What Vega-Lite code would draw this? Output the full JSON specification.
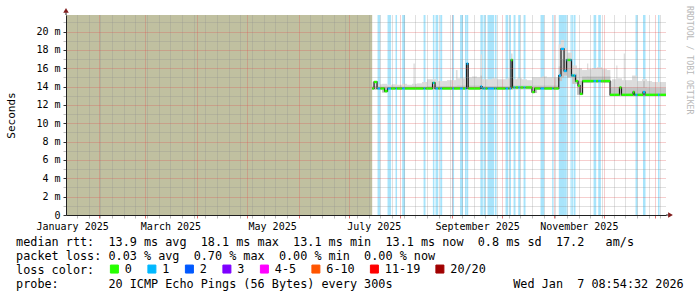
{
  "$schema": "https://vega.github.io/schema/vega-lite/v6.json",
  "width": 600,
  "height": 200,
  "autosize": {"type": "none"},
  "padding": {"left": 66, "top": 15, "right": 31, "bottom": 82},
  "background": "#ffffff",
  "config": {"view": {"stroke": null}, "font": "DejaVu Sans Mono"},
  "title": {"text": "RRDTOOL / TOBI OETIKER", "orient": "right", "anchor": "start", "frame": "group", "offset": 2, "dx": -9, "font": "DejaVu Sans Mono", "fontSize": 8.2, "fontWeight": "normal", "color": "#b8b8b8"},
  "datasets": {
    "unknown": [{"s": "2025-01-12T08:54", "e": "2025-07-15T02:00"}],
    "median": [
      {"s":"2025-07-15T02:00","e":"2025-07-16T05:00","ms":13.8,"loss":"0"},
      {"s":"2025-07-16T05:00","e":"2025-07-18T00:00","ms":14.5,"loss":"0"},
      {"s":"2025-07-18T00:00","e":"2025-07-18T07:00","ms":13.8,"loss":"0"},
      {"s":"2025-07-18T07:00","e":"2025-07-19T22:00","ms":13.8,"loss":"1"},
      {"s":"2025-07-19T22:00","e":"2025-07-22T12:00","ms":13.8,"loss":"0"},
      {"s":"2025-07-22T12:00","e":"2025-07-24T07:00","ms":13.5,"loss":"0"},
      {"s":"2025-07-24T07:00","e":"2025-07-26T10:00","ms":13.8,"loss":"1"},
      {"s":"2025-07-26T10:00","e":"2025-07-29T02:00","ms":13.8,"loss":"0"},
      {"s":"2025-07-29T02:00","e":"2025-07-30T00:00","ms":13.8,"loss":"1"},
      {"s":"2025-07-30T00:00","e":"2025-08-02T02:00","ms":13.8,"loss":"0"},
      {"s":"2025-08-02T02:00","e":"2025-08-03T19:00","ms":13.8,"loss":"1"},
      {"s":"2025-08-03T19:00","e":"2025-08-14T22:00","ms":13.8,"loss":"0"},
      {"s":"2025-08-14T22:00","e":"2025-08-16T02:00","ms":13.8,"loss":"1"},
      {"s":"2025-08-16T02:00","e":"2025-08-20T07:00","ms":13.8,"loss":"0"},
      {"s":"2025-08-20T07:00","e":"2025-08-20T12:00","ms":14.4,"loss":"0"},
      {"s":"2025-08-20T12:00","e":"2025-08-21T10:00","ms":14.4,"loss":"1"},
      {"s":"2025-08-21T10:00","e":"2025-08-21T19:00","ms":14.4,"loss":"0"},
      {"s":"2025-08-21T19:00","e":"2025-08-22T02:00","ms":13.8,"loss":"0"},
      {"s":"2025-08-22T02:00","e":"2025-08-23T17:00","ms":13.8,"loss":"1"},
      {"s":"2025-08-23T17:00","e":"2025-08-24T22:00","ms":13.8,"loss":"0"},
      {"s":"2025-08-24T22:00","e":"2025-08-26T02:00","ms":13.8,"loss":"1"},
      {"s":"2025-08-26T02:00","e":"2025-09-01T02:00","ms":13.8,"loss":"0"},
      {"s":"2025-09-01T02:00","e":"2025-09-02T05:00","ms":13.8,"loss":"1"},
      {"s":"2025-09-02T05:00","e":"2025-09-05T19:00","ms":13.8,"loss":"0"},
      {"s":"2025-09-05T19:00","e":"2025-09-07T14:00","ms":13.8,"loss":"1"},
      {"s":"2025-09-07T14:00","e":"2025-09-08T19:00","ms":13.8,"loss":"0"},
      {"s":"2025-09-08T19:00","e":"2025-09-09T17:00","ms":13.8,"loss":"1"},
      {"s":"2025-09-09T17:00","e":"2025-09-10T17:00","ms":16.5,"loss":"1"},
      {"s":"2025-09-10T17:00","e":"2025-09-17T22:00","ms":13.8,"loss":"0"},
      {"s":"2025-09-17T22:00","e":"2025-09-18T02:00","ms":13.8,"loss":"1"},
      {"s":"2025-09-18T02:00","e":"2025-09-19T00:00","ms":14.0,"loss":"1"},
      {"s":"2025-09-19T00:00","e":"2025-09-19T12:00","ms":13.8,"loss":"1"},
      {"s":"2025-09-19T12:00","e":"2025-09-19T22:00","ms":13.8,"loss":"0"},
      {"s":"2025-09-19T22:00","e":"2025-09-21T02:00","ms":13.8,"loss":"1"},
      {"s":"2025-09-21T02:00","e":"2025-09-22T07:00","ms":13.8,"loss":"0"},
      {"s":"2025-09-22T07:00","e":"2025-09-26T07:00","ms":13.8,"loss":"1"},
      {"s":"2025-09-26T07:00","e":"2025-09-26T19:00","ms":13.8,"loss":"0"},
      {"s":"2025-09-26T19:00","e":"2025-09-27T17:00","ms":13.8,"loss":"1"},
      {"s":"2025-09-27T17:00","e":"2025-10-03T02:00","ms":13.8,"loss":"0"},
      {"s":"2025-10-03T02:00","e":"2025-10-04T17:00","ms":13.8,"loss":"1"},
      {"s":"2025-10-04T17:00","e":"2025-10-05T12:00","ms":13.8,"loss":"0"},
      {"s":"2025-10-05T12:00","e":"2025-10-06T09:00","ms":13.8,"loss":"1"},
      {"s":"2025-10-06T09:00","e":"2025-10-07T07:00","ms":16.9,"loss":"0"},
      {"s":"2025-10-07T07:00","e":"2025-10-07T22:00","ms":13.9,"loss":"0"},
      {"s":"2025-10-07T22:00","e":"2025-10-09T02:00","ms":13.9,"loss":"1"},
      {"s":"2025-10-09T02:00","e":"2025-10-10T17:00","ms":13.9,"loss":"0"},
      {"s":"2025-10-10T17:00","e":"2025-10-11T22:00","ms":13.9,"loss":"1"},
      {"s":"2025-10-11T22:00","e":"2025-10-13T22:00","ms":13.9,"loss":"0"},
      {"s":"2025-10-13T22:00","e":"2025-10-15T02:00","ms":13.9,"loss":"1"},
      {"s":"2025-10-15T02:00","e":"2025-10-18T23:00","ms":13.9,"loss":"0"},
      {"s":"2025-10-18T23:00","e":"2025-10-20T12:00","ms":13.4,"loss":"0"},
      {"s":"2025-10-20T12:00","e":"2025-10-24T02:00","ms":13.8,"loss":"0"},
      {"s":"2025-10-24T02:00","e":"2025-10-26T07:00","ms":13.8,"loss":"1"},
      {"s":"2025-10-26T07:00","e":"2025-10-31T02:00","ms":13.8,"loss":"0"},
      {"s":"2025-10-31T02:00","e":"2025-10-31T22:00","ms":13.8,"loss":"1"},
      {"s":"2025-10-31T22:00","e":"2025-11-04T01:00","ms":13.8,"loss":"0"},
      {"s":"2025-11-04T01:00","e":"2025-11-05T09:00","ms":15.2,"loss":"1"},
      {"s":"2025-11-05T09:00","e":"2025-11-07T05:00","ms":18.1,"loss":"1"},
      {"s":"2025-11-07T05:00","e":"2025-11-08T17:00","ms":15.7,"loss":"1"},
      {"s":"2025-11-08T17:00","e":"2025-11-09T06:00","ms":16.9,"loss":"1"},
      {"s":"2025-11-09T06:00","e":"2025-11-11T02:00","ms":16.9,"loss":"0"},
      {"s":"2025-11-11T02:00","e":"2025-11-11T16:00","ms":16.9,"loss":"1"},
      {"s":"2025-11-11T16:00","e":"2025-11-12T12:00","ms":15.2,"loss":"1"},
      {"s":"2025-11-12T12:00","e":"2025-11-12T22:00","ms":15.2,"loss":"0"},
      {"s":"2025-11-12T22:00","e":"2025-11-14T02:00","ms":15.2,"loss":"1"},
      {"s":"2025-11-14T02:00","e":"2025-11-15T14:00","ms":14.6,"loss":"0"},
      {"s":"2025-11-15T14:00","e":"2025-11-16T19:00","ms":14.1,"loss":"0"},
      {"s":"2025-11-16T19:00","e":"2025-11-18T07:00","ms":13.2,"loss":"0"},
      {"s":"2025-11-18T07:00","e":"2025-11-24T22:00","ms":14.6,"loss":"0"},
      {"s":"2025-11-24T22:00","e":"2025-11-26T12:00","ms":14.6,"loss":"1"},
      {"s":"2025-11-26T12:00","e":"2025-11-27T17:00","ms":14.6,"loss":"0"},
      {"s":"2025-11-27T17:00","e":"2025-11-29T07:00","ms":14.6,"loss":"1"},
      {"s":"2025-11-29T07:00","e":"2025-12-04T19:00","ms":14.6,"loss":"0"},
      {"s":"2025-12-04T19:00","e":"2025-12-10T11:00","ms":13.1,"loss":"0"},
      {"s":"2025-12-10T11:00","e":"2025-12-11T16:00","ms":13.9,"loss":"0"},
      {"s":"2025-12-11T16:00","e":"2025-12-18T14:00","ms":13.1,"loss":"0"},
      {"s":"2025-12-18T14:00","e":"2025-12-19T11:00","ms":13.4,"loss":"0"},
      {"s":"2025-12-19T11:00","e":"2025-12-20T02:00","ms":13.1,"loss":"0"},
      {"s":"2025-12-20T02:00","e":"2025-12-21T07:00","ms":13.1,"loss":"1"},
      {"s":"2025-12-21T07:00","e":"2025-12-24T14:00","ms":13.1,"loss":"0"},
      {"s":"2025-12-24T14:00","e":"2025-12-25T19:00","ms":13.4,"loss":"1"},
      {"s":"2025-12-25T19:00","e":"2025-12-26T02:00","ms":13.1,"loss":"1"},
      {"s":"2025-12-26T02:00","e":"2026-01-02T14:00","ms":13.1,"loss":"0"},
      {"s":"2026-01-02T14:00","e":"2026-01-03T12:00","ms":13.1,"loss":"1"},
      {"s":"2026-01-03T12:00","e":"2026-01-07T08:54","ms":13.1,"loss":"0"}
    ],
    "smoke": [
      {"s":"2025-07-15T02:00","e":"2025-07-18T00:00","ms":13.65,"hi":14.5,"mid":14.05},
      {"s":"2025-07-18T00:00","e":"2025-07-21T00:00","ms":13.65,"hi":14.25,"mid":14.0},
      {"s":"2025-07-21T00:00","e":"2025-07-24T00:00","ms":13.35,"hi":14.3,"mid":14.0},
      {"s":"2025-07-24T00:00","e":"2025-07-27T00:00","ms":13.65,"hi":14.2,"mid":14.0},
      {"s":"2025-07-27T00:00","e":"2025-07-30T00:00","ms":13.65,"hi":14.25,"mid":14.0},
      {"s":"2025-07-30T00:00","e":"2025-08-02T00:00","ms":13.65,"hi":14.2,"mid":14.0},
      {"s":"2025-08-02T00:00","e":"2025-08-05T00:00","ms":13.65,"hi":14.3,"mid":14.0},
      {"s":"2025-08-05T00:00","e":"2025-08-08T00:00","ms":13.65,"hi":14.2,"mid":14.0},
      {"s":"2025-08-08T00:00","e":"2025-08-11T00:00","ms":13.65,"hi":14.3,"mid":14.0},
      {"s":"2025-08-11T00:00","e":"2025-08-14T00:00","ms":13.65,"hi":14.35,"mid":14.0},
      {"s":"2025-08-14T00:00","e":"2025-08-17T00:00","ms":13.65,"hi":14.5,"mid":14.0},
      {"s":"2025-08-17T00:00","e":"2025-08-20T00:00","ms":13.65,"hi":14.8,"mid":14.05},
      {"s":"2025-08-20T00:00","e":"2025-08-23T00:00","ms":13.65,"hi":14.8,"mid":14.1},
      {"s":"2025-08-23T00:00","e":"2025-08-26T00:00","ms":13.65,"hi":14.6,"mid":14.05},
      {"s":"2025-08-26T00:00","e":"2025-08-29T00:00","ms":13.65,"hi":14.6,"mid":14.05},
      {"s":"2025-08-29T00:00","e":"2025-09-01T00:00","ms":13.65,"hi":14.7,"mid":14.05},
      {"s":"2025-09-01T00:00","e":"2025-09-04T00:00","ms":13.65,"hi":14.7,"mid":14.05},
      {"s":"2025-09-04T00:00","e":"2025-09-07T00:00","ms":13.65,"hi":14.9,"mid":14.1},
      {"s":"2025-09-07T00:00","e":"2025-09-10T00:00","ms":13.65,"hi":14.9,"mid":14.1},
      {"s":"2025-09-10T00:00","e":"2025-09-13T00:00","ms":13.65,"hi":15.0,"mid":14.1},
      {"s":"2025-09-13T00:00","e":"2025-09-16T00:00","ms":13.65,"hi":15.1,"mid":14.1},
      {"s":"2025-09-16T00:00","e":"2025-09-19T00:00","ms":13.65,"hi":15.0,"mid":14.1},
      {"s":"2025-09-19T00:00","e":"2025-09-22T00:00","ms":13.65,"hi":14.8,"mid":14.05},
      {"s":"2025-09-22T00:00","e":"2025-09-25T00:00","ms":13.65,"hi":14.8,"mid":14.05},
      {"s":"2025-09-25T00:00","e":"2025-09-28T00:00","ms":13.65,"hi":14.9,"mid":14.05},
      {"s":"2025-09-28T00:00","e":"2025-10-01T00:00","ms":13.65,"hi":14.8,"mid":14.05},
      {"s":"2025-10-01T00:00","e":"2025-10-04T00:00","ms":13.65,"hi":14.8,"mid":14.05},
      {"s":"2025-10-04T00:00","e":"2025-10-07T00:00","ms":13.65,"hi":14.9,"mid":14.05},
      {"s":"2025-10-07T00:00","e":"2025-10-10T00:00","ms":13.7,"hi":14.8,"mid":14.1},
      {"s":"2025-10-10T00:00","e":"2025-10-13T00:00","ms":13.7,"hi":14.9,"mid":14.1},
      {"s":"2025-10-13T00:00","e":"2025-10-16T00:00","ms":13.7,"hi":14.8,"mid":14.1},
      {"s":"2025-10-16T00:00","e":"2025-10-19T00:00","ms":13.7,"hi":14.7,"mid":14.1},
      {"s":"2025-10-19T00:00","e":"2025-10-22T00:00","ms":13.3,"hi":15.0,"mid":14.1},
      {"s":"2025-10-22T00:00","e":"2025-10-25T00:00","ms":13.65,"hi":15.0,"mid":14.1},
      {"s":"2025-10-25T00:00","e":"2025-10-28T00:00","ms":13.65,"hi":15.1,"mid":14.1},
      {"s":"2025-10-28T00:00","e":"2025-10-31T00:00","ms":13.65,"hi":15.0,"mid":14.1},
      {"s":"2025-10-31T00:00","e":"2025-11-04T00:00","ms":13.65,"hi":15.0,"mid":14.1},
      {"s":"2025-11-04T00:00","e":"2025-11-06T00:00","ms":14.6,"hi":18.6,"mid":16.2},
      {"s":"2025-11-06T00:00","e":"2025-11-09T00:00","ms":15.2,"hi":18.2,"mid":17.0},
      {"s":"2025-11-09T00:00","e":"2025-11-12T00:00","ms":15.0,"hi":17.7,"mid":16.8},
      {"s":"2025-11-12T00:00","e":"2025-11-15T00:00","ms":14.3,"hi":16.3,"mid":15.4},
      {"s":"2025-11-15T00:00","e":"2025-11-18T00:00","ms":13.1,"hi":16.0,"mid":14.6},
      {"s":"2025-11-18T00:00","e":"2025-11-21T00:00","ms":14.4,"hi":15.8,"mid":15.1},
      {"s":"2025-11-21T00:00","e":"2025-11-24T00:00","ms":14.4,"hi":15.9,"mid":15.1},
      {"s":"2025-11-24T00:00","e":"2025-11-27T00:00","ms":14.4,"hi":16.0,"mid":15.1},
      {"s":"2025-11-27T00:00","e":"2025-11-30T00:00","ms":14.4,"hi":16.1,"mid":15.1},
      {"s":"2025-11-30T00:00","e":"2025-12-03T00:00","ms":14.4,"hi":15.9,"mid":15.1},
      {"s":"2025-12-03T00:00","e":"2025-12-05T00:00","ms":14.4,"hi":15.8,"mid":15.1},
      {"s":"2025-12-05T00:00","e":"2025-12-06T00:00","ms":13.0,"hi":14.6,"mid":13.9},
      {"s":"2025-12-06T00:00","e":"2025-12-09T00:00","ms":13.0,"hi":14.8,"mid":13.9},
      {"s":"2025-12-09T00:00","e":"2025-12-12T00:00","ms":13.0,"hi":14.9,"mid":13.95},
      {"s":"2025-12-12T00:00","e":"2025-12-15T00:00","ms":13.0,"hi":14.7,"mid":13.9},
      {"s":"2025-12-15T00:00","e":"2025-12-18T00:00","ms":13.0,"hi":14.7,"mid":13.9},
      {"s":"2025-12-18T00:00","e":"2025-12-21T00:00","ms":13.0,"hi":15.2,"mid":13.9},
      {"s":"2025-12-21T00:00","e":"2025-12-24T00:00","ms":13.0,"hi":14.6,"mid":13.9},
      {"s":"2025-12-24T00:00","e":"2025-12-27T00:00","ms":13.0,"hi":14.8,"mid":13.9},
      {"s":"2025-12-27T00:00","e":"2025-12-30T00:00","ms":13.0,"hi":14.6,"mid":13.85},
      {"s":"2025-12-30T00:00","e":"2026-01-02T00:00","ms":13.0,"hi":14.5,"mid":13.85},
      {"s":"2026-01-02T00:00","e":"2026-01-05T00:00","ms":13.0,"hi":14.5,"mid":13.85},
      {"s":"2026-01-05T00:00","e":"2026-01-07T08:54","ms":13.0,"hi":14.5,"mid":13.85},
      {"s":"2025-08-08T20:00","e":"2025-08-09T16:00","ms":13.65,"hi":16.5,"mid":14.0},
      {"s":"2025-09-03T07:00","e":"2025-09-04T07:00","ms":13.65,"hi":15.8,"mid":14.0},
      {"s":"2025-09-09T17:00","e":"2025-09-10T17:00","ms":13.65,"hi":16.7,"mid":14.0},
      {"s":"2025-09-18T02:00","e":"2025-09-19T00:00","ms":13.65,"hi":17.5,"mid":15.2},
      {"s":"2025-10-06T09:00","e":"2025-10-07T07:00","ms":13.65,"hi":17.6,"mid":14.0},
      {"s":"2025-11-05T09:00","e":"2025-11-07T05:00","ms":15.0,"hi":19.1,"mid":17.0},
      {"s":"2025-11-21T00:00","e":"2025-11-21T18:00","ms":14.4,"hi":16.5,"mid":15.1},
      {"s":"2025-12-08T12:00","e":"2025-12-09T06:00","ms":13.0,"hi":16.3,"mid":13.9},
      {"s":"2025-12-13T00:00","e":"2025-12-13T18:00","ms":13.0,"hi":17.6,"mid":13.9},
      {"s":"2025-12-24T14:00","e":"2025-12-25T19:00","ms":13.0,"hi":14.8,"mid":14.6}
    ]
  },
  "resolve": {"scale": {"x": "independent", "y": "independent"}},
  "layer": [
    {
      "encoding": {
        "x": {
          "field": "s", "type": "temporal",
          "scale": {"domain": [{"year":2025,"month":1,"date":12,"hours":8,"minutes":54}, {"year":2026,"month":1,"date":7,"hours":8,"minutes":54}]},
          "axis": {
            "values": [
              {"year":2025,"month":1,"date":19},{"year":2025,"month":1,"date":26},
              {"year":2025,"month":2,"date":2},{"year":2025,"month":2,"date":9},{"year":2025,"month":2,"date":16},{"year":2025,"month":2,"date":23},
              {"year":2025,"month":3,"date":2},{"year":2025,"month":3,"date":9},{"year":2025,"month":3,"date":16},{"year":2025,"month":3,"date":23},{"year":2025,"month":3,"date":30},
              {"year":2025,"month":4,"date":6},{"year":2025,"month":4,"date":13},{"year":2025,"month":4,"date":20},{"year":2025,"month":4,"date":27},
              {"year":2025,"month":5,"date":4},{"year":2025,"month":5,"date":11},{"year":2025,"month":5,"date":18},{"year":2025,"month":5,"date":25},
              {"year":2025,"month":6,"date":1},{"year":2025,"month":6,"date":8},{"year":2025,"month":6,"date":15},{"year":2025,"month":6,"date":22},{"year":2025,"month":6,"date":29},
              {"year":2025,"month":7,"date":6},{"year":2025,"month":7,"date":13},{"year":2025,"month":7,"date":20},{"year":2025,"month":7,"date":27},
              {"year":2025,"month":8,"date":3},{"year":2025,"month":8,"date":10},{"year":2025,"month":8,"date":17},{"year":2025,"month":8,"date":24},{"year":2025,"month":8,"date":31},
              {"year":2025,"month":9,"date":7},{"year":2025,"month":9,"date":14},{"year":2025,"month":9,"date":21},{"year":2025,"month":9,"date":28},
              {"year":2025,"month":10,"date":5},{"year":2025,"month":10,"date":12},{"year":2025,"month":10,"date":19},{"year":2025,"month":10,"date":26},
              {"year":2025,"month":11,"date":2},{"year":2025,"month":11,"date":9},{"year":2025,"month":11,"date":16},{"year":2025,"month":11,"date":23},{"year":2025,"month":11,"date":30},
              {"year":2025,"month":12,"date":7},{"year":2025,"month":12,"date":14},{"year":2025,"month":12,"date":21},{"year":2025,"month":12,"date":28},
              {"year":2026,"month":1,"date":4},
              {"year":2025,"month":2,"date":1},{"year":2025,"month":3,"date":1},{"year":2025,"month":4,"date":1},{"year":2025,"month":5,"date":1},
              {"year":2025,"month":7,"date":1},{"year":2025,"month":8,"date":1},{"year":2025,"month":9,"date":1},{"year":2025,"month":10,"date":1},
              {"year":2025,"month":11,"date":1},{"year":2025,"month":12,"date":1},{"year":2026,"month":1,"date":1},
              {"year":2025,"month":1,"date":16,"hours":1},{"year":2025,"month":3,"date":16,"hours":1},{"year":2025,"month":5,"date":16,"hours":1},
              {"year":2025,"month":7,"date":16,"hours":1},{"year":2025,"month":9,"date":16,"hours":1},{"year":2025,"month":11,"date":16,"hours":1}
            ],
            "grid": true,
            "gridDash": [1, 1],
            "gridColor": {"condition": {"test": "date(datum.value) == 1 && hours(datum.value) == 0", "value": "rgba(222,79,79,0.55)"}, "value": "rgba(143,143,143,0.55)"},
            "gridOpacity": {"condition": {"test": "hours(datum.value) == 1", "value": 0}, "value": 1},
            "ticks": true,
            "tickSize": 3,
            "tickColor": {"condition": {"test": "date(datum.value) == 1 && hours(datum.value) == 0", "value": "rgba(222,79,79,0.8)"}, "value": "rgba(143,143,143,0.6)"},
            "tickOpacity": {"condition": {"test": "hours(datum.value) == 1", "value": 0}, "value": 1},
            "labelExpr": "hours(datum.value) == 1 ? timeFormat(datum.value, '%B %Y') : ''",
            "labelFont": "DejaVu Sans Mono",
            "labelFontSize": 10,
            "labelColor": "#000000",
            "labelPadding": 3,
            "labelFlush": false,
            "labelOverlap": false,
            "domain": true,
            "domainColor": "#202020",
            "title": [
              "median rtt: \u00a013.9 ms avg \u00a018.1 ms max \u00a013.1 ms min \u00a013.1 ms now \u00a00.8 ms sd \u00a017.2 \u00a0\u00a0am/s",
              "packet loss: 0.03 % avg \u00a00.70 % max \u00a00.00 % min \u00a00.00 % now",
              "loss color:",
              "probe: \u00a0\u00a0\u00a0\u00a0\u00a0\u00a020 ICMP Echo Pings (56 Bytes) every 300s \u00a0\u00a0\u00a0\u00a0\u00a0\u00a0\u00a0\u00a0\u00a0\u00a0\u00a0\u00a0\u00a0\u00a0\u00a0\u00a0Wed Jan \u00a07 08:54:32 2026"
            ],
            "titleFont": "DejaVu Sans Mono",
            "titleFontSize": 11.8,
            "titleFontWeight": "normal",
            "titleColor": "#000000",
            "titleAlign": "left",
            "titleAnchor": "start",
            "titleBaseline": "alphabetic",
            "titleX": -50.4,
            "titleY": 30,
            "titleLineHeight": 14.3,
            "titleLimit": 1000,
            "zindex": 1
          }
        }
      },
      "layer": [
        {
          "data": {"name": "unknown"},
          "mark": {"type": "rect", "color": "#c0c0a0"},
          "encoding": {"x2": {"field": "e"}}
        },
        {
          "data": {"name": "median"},
          "transform": [{"filter": "datum.loss == '1'"}],
          "mark": {"type": "rect", "color": "#a8e4fb"},
          "encoding": {"x2": {"field": "e"}}
        },
        {
          "encoding": {
            "y": {
              "field": "ms", "type": "quantitative",
              "scale": {"domain": [0, 21.8], "nice": false, "zero": true},
              "axis": {
                "values": [0,1,2,3,4,5,6,7,8,9,10,11,12,13,14,15,16,17,18,19,20,21],
                "grid": true,
                "gridDash": [1, 1],
                "gridColor": {"condition": {"test": "datum.value % 2 == 0", "value": "rgba(222,79,79,0.55)"}, "value": "rgba(143,143,143,0.55)"},
                "gridOpacity": {"condition": {"test": "datum.value == 0", "value": 0}, "value": 1},
                "ticks": true,
                "tickSize": 3,
                "tickColor": {"condition": {"test": "datum.value % 2 == 0", "value": "#303030"}, "value": "rgba(143,143,143,0.6)"},
                "labelExpr": "datum.value % 2 == 0 ? (datum.value == 0 ? '0\u00a0\u00a0' : datum.value + ' m') : ''",
                "labelFont": "DejaVu Sans Mono",
                "labelFontSize": 10,
                "labelColor": "#000000",
                "labelPadding": 3,
                "labelOverlap": false,
                "labelFlush": false,
                "domain": true,
                "domainColor": "#202020",
                "title": "Seconds",
                "titleFont": "DejaVu Sans Mono",
                "titleFontSize": 11,
                "titleFontWeight": "normal",
                "titleColor": "#000000",
                "titlePadding": 19.5,
                "zindex": 1
              }
            }
          },
          "layer": [
            {
              "data": {"name": "smoke"},
              "mark": {"type": "rect", "color": "#dcdcdc"},
              "encoding": {"x2": {"field": "e"}, "y2": {"field": "hi"}}
            },
            {
              "data": {"name": "smoke"},
              "mark": {"type": "rect", "color": "#c4c4c4"},
              "encoding": {"x2": {"field": "e"}, "y2": {"field": "mid"}}
            },
            {
              "data": {"name": "median"},
              "mark": {"type": "line", "interpolate": "step-after", "color": "#1e1e1e", "strokeWidth": 1.2}
            },
            {
              "data": {"name": "median"},
              "mark": {"type": "rule", "strokeWidth": 2.4},
              "encoding": {
                "x2": {"field": "e"},
                "color": {
                  "field": "loss", "type": "nominal",
                  "scale": {"domain": ["0","1","2","3","4-5","6-10","11-19","20/20"], "range": ["#26ff00","#00b8ff","#0059ff","#7e00ff","#ff00ff","#ff5500","#ff0000","#a10000"]},
                  "legend": {
                    "title": null,
                    "orient": "none",
                    "legendX": 42.5,
                    "legendY": 248,
                    "direction": "horizontal",
                    "padding": 0,
                    "symbolType": "square",
                    "symbolSize": 64,
                    "symbolStrokeWidth": 1,
                    "symbolStrokeColor": "#000000",
                    "labelFont": "monospace",
                    "labelFontSize": 11.8,
                    "labelColor": "#000000",
                    "labelOffset": 4.5,
                    "columnPadding": 12.5,
                    "encode": {"symbols": {"enter": {"stroke": {"value": "#000000"}}, "update": {"fill": {"scale": "color", "field": "value"}, "stroke": {"value": "#000000"}, "strokeWidth": {"value": 1}, "opacity": {"value": 1}}}}
                  }
                }
              }
            }
          ]
        }
      ]
    },
    {
      "data": {"values": [{}]},
      "layer": [
        {
          "mark": {"type": "rule", "color": "#202020"},
          "encoding": {
            "x": {"datum": {"year":2025,"month":1,"date":12,"hours":8,"minutes":54}, "type": "temporal", "scale": {"domain": [{"year":2025,"month":1,"date":12,"hours":8,"minutes":54}, {"year":2026,"month":1,"date":7,"hours":8,"minutes":54}]}, "axis": null},
            "y": {"datum": 21.8, "type": "quantitative", "scale": {"domain": [0, 21.8], "nice": false, "zero": true}, "axis": null},
            "y2": {"datum": 22.1}
          }
        },
        {
          "mark": {"type": "rule", "color": "#202020"},
          "encoding": {
            "x": {"datum": {"year":2026,"month":1,"date":7,"hours":8,"minutes":54}, "type": "temporal", "axis": null},
            "x2": {"datum": {"year":2026,"month":1,"date":8,"hours":20}},
            "y": {"datum": 0, "type": "quantitative", "axis": null}
          }
        },
        {
          "mark": {"type": "point", "shape": "triangle-up", "filled": true, "color": "#801e1e", "size": 30, "opacity": 1},
          "encoding": {
            "x": {"datum": {"year":2025,"month":1,"date":12,"hours":8,"minutes":54}, "type": "temporal", "axis": null},
            "y": {"datum": 22.3, "type": "quantitative", "axis": null}
          }
        },
        {
          "mark": {"type": "point", "shape": "triangle-right", "filled": true, "color": "#801e1e", "size": 30, "opacity": 1},
          "encoding": {
            "x": {"datum": {"year":2026,"month":1,"date":10,"hours":2}, "type": "temporal", "axis": null},
            "y": {"datum": 0, "type": "quantitative", "axis": null}
          }
        }
      ]
    }
  ]
}
